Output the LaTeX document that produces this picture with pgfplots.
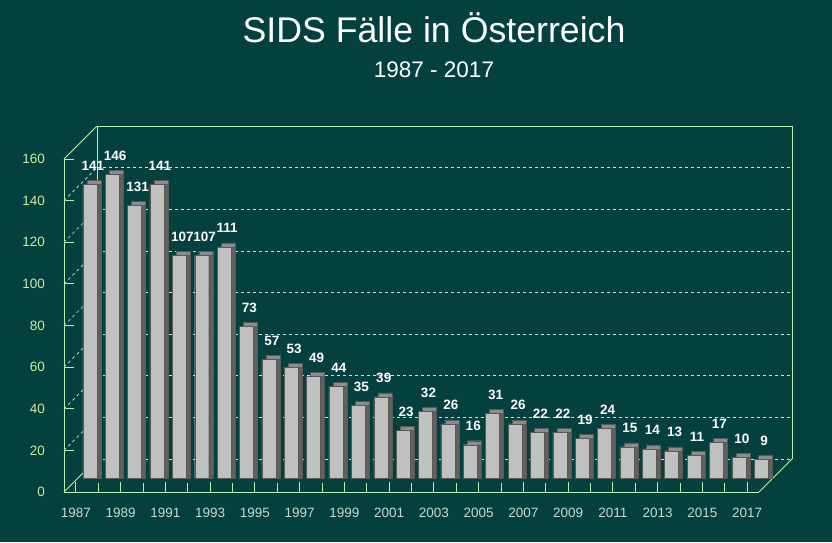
\documentclass[border=0pt]{standalone}
\usepackage{fontspec}
\setmainfont{Liberation Sans}
\usepackage{pgfplots}
\pgfplotsset{compat=1.18}
\usepackage{pgfplotstable}
\definecolor{bg}{RGB}{4,64,62}
\definecolor{framec}{RGB}{184,240,176}
\definecolor{gridc}{RGB}{205,230,210}
\definecolor{barfront}{RGB}{192,192,192}
\definecolor{barside}{RGB}{96,96,96}
\definecolor{bartop}{RGB}{140,140,140}
\definecolor{ylab}{RGB}{205,232,160}
\definecolor{xlab}{RGB}{200,216,208}

\pgfplotstableread{
year v
1987 141
1988 146
1989 131
1990 141
1991 107
1992 107
1993 111
1994 73
1995 57
1996 53
1997 49
1998 44
1999 35
2000 39
2001 23
2002 32
2003 26
2004 16
2005 31
2006 26
2007 22
2008 22
2009 19
2010 24
2011 15
2012 14
2013 13
2014 11
2015 17
2016 10
2017 9
}\sids

\pgfplotsset{
  common/.style={scale only axis, width=695pt, height=333pt,
    xmin=1986.47, xmax=2017.53, ymin=0, ymax=160, anchor=south west},
  hiddenbars/.style={common, hide axis, clip=false, ybar, bar width=14pt},
}

\begin{document}
\begin{tikzpicture}[x=1pt,y=1pt]
\fill[bg, use as bounding box] (0,0) rectangle (832,542);
\node[white, anchor=base, inner sep=0pt, font=\fontsize{35.7}{40}\selectfont] at (434,499) {SIDS Fälle in Österreich};
\node[white, anchor=base, inner sep=0pt, font=\fontsize{22.5}{26}\selectfont] at (434,464) {1987 - 2017};

% back plane, walls, floor
\begin{axis}[common, at={(97pt,83pt)}, hide axis, clip=false]
  \addplot[draw=none, forget plot] coordinates {(1990,0)};
  \pgfplotsinvokeforeach{0,20,40,60,80,100,120,140}{
    \draw[gridc, line width=0.7pt, dash pattern=on 3pt off 3pt] (axis cs:1986.47,#1) -- (axis cs:2017.53,#1);
  }
  \pgfplotsinvokeforeach{20,40,60,80,100,120,140}{
    \draw[gridc, line width=0.7pt, dash pattern=on 3pt off 3pt] ([shift={(-33pt,-33pt)}]axis cs:1986.47,#1) -- (axis cs:1986.47,#1);
  }
  \draw[framec, line width=1pt] (rel axis cs:0,0) -- (rel axis cs:0,1) -- (rel axis cs:1,1) -- (rel axis cs:1,0);
  \draw[framec, line width=1pt] (rel axis cs:0,0) -- ++(-33pt,-33pt);
  \draw[framec, line width=1pt] (rel axis cs:0,1) -- ++(-33pt,-33pt);
  \draw[framec, line width=1pt] (rel axis cs:1,0) -- ++(-33pt,-33pt);
\end{axis}

% bar top faces
\begin{axis}[hiddenbars, at={(82pt,68pt)}]
  \addplot[fill=bartop, draw=black!65, line width=0.4pt] table[x=year,y=v]{\sids};
\end{axis}
% bar side faces
\begin{axis}[hiddenbars, at={(82pt,64pt)}]
  \addplot[fill=barside, draw=black!65, line width=0.4pt] table[x=year,y=v]{\sids};
\end{axis}
% bar front faces with labels
\begin{axis}[hiddenbars, at={(78pt,64pt)}, nodes near coords,
  /pgf/number format/assume math mode=true,
  every node near coord/.append style={anchor=base, xshift=3pt, yshift=14pt, inner sep=0pt,
    text=white, font=\fontsize{13.5}{16}\selectfont\bfseries}]
  \addplot[fill=barfront, draw=black!65, line width=0.4pt] table[x=year,y=v]{\sids};
\end{axis}

% front axis
\begin{axis}[common, at={(64pt,50pt)}, axis lines*=left,
  axis line style={framec, line width=1pt},
  tick align=inside,
  xtick={1987,1989,...,2017}, minor xtick={1988,1990,...,2016},
  ytick={0,20,...,160},
  major tick length=10pt, minor tick length=9pt,
  tick style={framec, line width=0.8pt},
  /pgf/number format/1000 sep={},
  /pgf/number format/assume math mode=true,
  xticklabel style={anchor=base, yshift=-25pt, inner sep=0pt, text=xlab, font=\fontsize{13.5}{16}\selectfont},
  yticklabel style={anchor=east, xshift=-19pt, inner sep=0pt, text=ylab, font=\fontsize{13.5}{16}\selectfont},
]
  \addplot[draw=none, forget plot] coordinates {(1990,0)};
\end{axis}
\end{tikzpicture}
\end{document}
